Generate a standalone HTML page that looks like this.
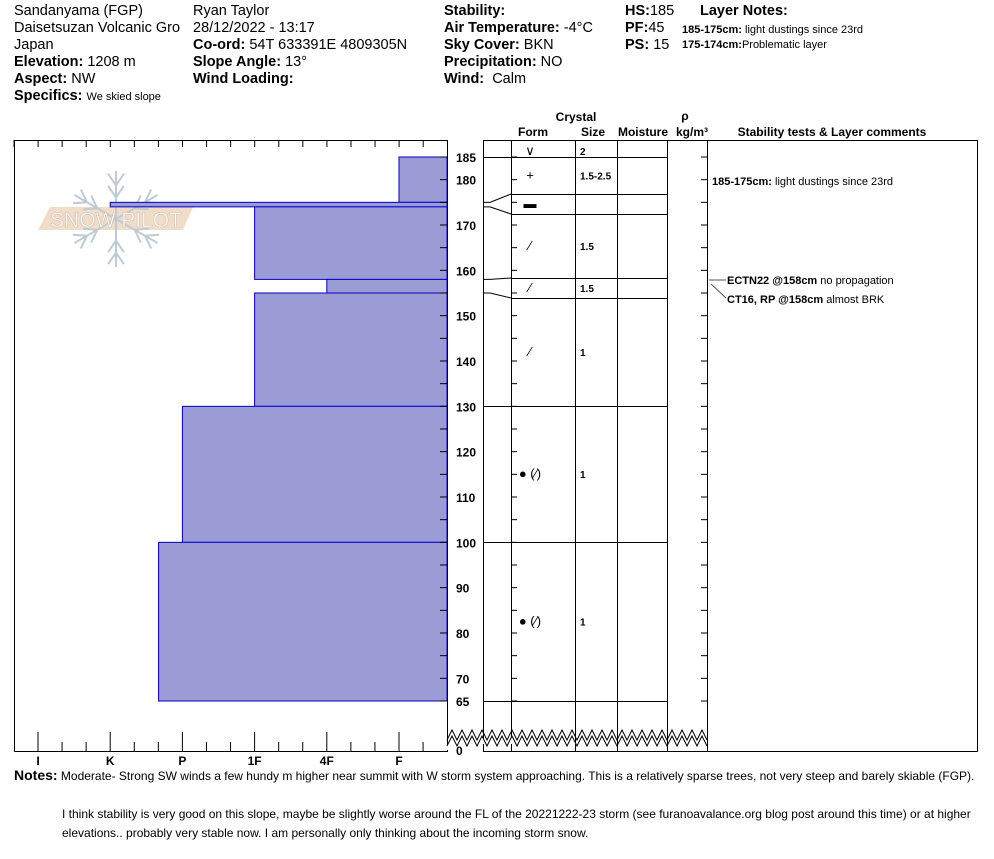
<!DOCTYPE html>
<html><head><meta charset="utf-8"><style>
body{margin:0;background:#fff;width:994px;height:859px;overflow:hidden;font-family:"Liberation Sans",sans-serif;}
.t{position:absolute;font-size:14.5px;color:#000;white-space:nowrap;line-height:17px}
b{font-weight:bold}
</style></head><body>
<div>
<div class="t" style="left:14px;top:3px">Sandanyama (FGP)<br>Daisetsuzan Volcanic Gro<br>Japan<br><b>Elevation:</b> 1208 m<br><b>Aspect:</b> NW<br><b>Specifics:</b> <span style="font-size:11px">We skied slope</span></div>
<div class="t" style="left:193px;top:3px">Ryan Taylor<br>28/12/2022 - 13:17<br><b>Co-ord:</b> 54T 633391E 4809305N<br><b>Slope Angle:</b> 13°<br><b>Wind Loading:</b></div>
<div class="t" style="left:444px;top:3px"><b>Stability:</b><br><b>Air Temperature:</b> -4°C<br><b>Sky Cover:</b> BKN<br><b>Precipitation:</b> NO<br><b>Wind:</b>&nbsp; Calm</div>
<div class="t" style="left:625px;top:3px"><b>HS:</b>185<br><b>PF:</b>45<br><b>PS:</b> 15</div>
<div class="t" style="left:700px;top:3px"><b>Layer Notes:</b></div>
<div class="t" style="left:682px;top:23px;font-size:11px;line-height:15px"><b>185-175cm:</b> light dustings since 23rd<br><b>175-174cm:</b>Problematic layer</div>
</div>
<svg id="chart" width="994" height="859" style="position:absolute;left:0;top:0" font-family="Liberation Sans, sans-serif"></svg>
<div class="t" style="left:14px;top:767px;font-size:12px;line-height:16px"><b style="font-size:14px">Notes:</b> Moderate- Strong SW winds a few hundy m higher near summit with W storm system approaching. This is a relatively sparse trees, not very steep and barely skiable (FGP).</div>
<div class="t" style="left:62px;top:805px;font-size:12px;line-height:19px;white-space:normal;width:930px">I think stability is very good on this slope, maybe be slightly worse around the FL of the 20221222-23 storm (see furanoavalance.org blog post around this time) or at higher elevations.. probably very stable now. I am personally only thinking about the incoming storm snow.</div>
<script>
const layerTops=[185,175,174,158,155,130,100];
const layerBottoms=[175,174,158,155,130,100,65];
const layerHardness=[1,5,3,2,3,4,4.33];
const hardLabels=["F","4F","1F","P","K","I"];
const depthTicks=[180,170,160,150,140,130,120,110,100,90,80,70];
const forms=["∨","+","▬","⁄","⁄","⁄","● (⁄)","● (⁄)"];
const sizes=["2","1.5-2.5","","1.5","1.5","1","1","1"];
const rowBounds=[157,194,214,278,298,406,542,701];
const svg=document.getElementById('chart');
const NS='http://www.w3.org/2000/svg';
function el(tag,attrs,txt){const e=document.createElementNS(NS,tag);for(const k in attrs)e.setAttribute(k,attrs[k]);if(txt!==undefined)e.textContent=txt;svg.appendChild(e);return e;}
const yD=d=>157+(185-d)*(544/120);
const xH=h=>399-(h-1)*72.2;
// logo
const logo=el('g',{opacity:0.9});


const p=document.createElementNS(NS,'polygon');p.setAttribute('points','50,207 193,207 183,230 38,230');p.setAttribute('fill','#efd9c2');logo.appendChild(p);
for(let a=0;a<6;a++){const an=a*Math.PI/3+Math.PI/2;const ex=116+48*Math.cos(an),ey=219-48*Math.sin(an);
 const l=document.createElementNS(NS,'line');l.setAttribute('x1',116);l.setAttribute('y1',219);l.setAttribute('x2',ex);l.setAttribute('y2',ey);l.setAttribute('stroke','#b9c6d0');l.setAttribute('stroke-width',2);logo.appendChild(l);
 for(const f of [0.45,0.7]){const bx=116+48*f*Math.cos(an),by=219-48*f*Math.sin(an);
  for(const s of [-1,1]){const a2=an+s*0.6;const b=document.createElementNS(NS,'line');b.setAttribute('x1',bx);b.setAttribute('y1',by);b.setAttribute('x2',bx+14*Math.cos(a2));b.setAttribute('y2',by-14*Math.sin(a2));b.setAttribute('stroke','#b9c6d0');b.setAttribute('stroke-width',2);logo.appendChild(b);}}}
const lt=document.createElementNS(NS,'text');lt.setAttribute('x',116);lt.setAttribute('y',227);lt.setAttribute('text-anchor','middle');lt.setAttribute('font-size',21);lt.setAttribute('fill','#fff');lt.setAttribute('stroke','#c9b8a8');lt.setAttribute('stroke-width',0.6);lt.textContent='SNOW PILOT';logo.appendChild(lt);
// layers
for(let i=0;i<layerTops.length;i++){
 const x=xH(layerHardness[i]),y=yD(layerTops[i]);
 const r=el('rect',{x:x,y:y,width:447-x,height:yD(layerBottoms[i])-y,fill:'#9b9bd6',stroke:'#0000c8','stroke-width':1});
 
 
}
// left box
el('rect',{x:14.5,y:140.5,width:433,height:611,fill:'none',stroke:'#000'});
for(let x=14;x<=447;x+=24.07)el('line',{x1:x,y1:140,x2:x,y2:147,stroke:'#000'});
for(let k=-2;k<=18;k++){const x=xH(1)-k*72.2/3;if(x<15||x>446)continue;const maj=k%3==0;el('line',{x1:x,y1:maj?732:742,x2:x,y2:751,stroke:'#000'});}
hardLabels.forEach((h,i)=>{const t=el('text',{x:xH(i+1),y:765,'text-anchor':'middle','font-size':12,'font-weight':'bold'},h);});
for(let d=65;d<=185;d+=5){const y=yD(d);el('line',{x1:440,y1:y,x2:447,y2:y,stroke:'#000'});el('line',{x1:511,y1:y,x2:517,y2:y,stroke:'#000'});el('line',{x1:701,y1:y,x2:707,y2:y,stroke:'#000'});}
depthTicks.forEach(d=>{const t=el('text',{x:456,y:yD(d)+5,'font-size':12,'font-weight':'bold'},d);});
[185,65].forEach(d=>el('text',{x:456,y:yD(d)+5,'font-size':12,'font-weight':'bold'},d));
// table
el('line',{x1:483,y1:140.5,x2:707,y2:140.5,stroke:'#000'});
[483,511,575,617,667].forEach(x=>el('line',{x1:x+.5,y1:140,x2:x+.5,y2:751,stroke:'#000'}));
el('rect',{x:707.5,y:140.5,width:270,height:611,fill:'none',stroke:'#000'});
el('line',{x1:483,y1:751.5,x2:707,y2:751.5,stroke:'#000'});
rowBounds.forEach((y,i)=>{const d=[185,175,174,158,155,130,100,65][i];const dy=yD(d);
 el('line',{x1:511,y1:y+.5,x2:667,y2:y+.5,stroke:'#000'});
 if(Math.abs(dy-y)<1)el('line',{x1:483,y1:y+.5,x2:511,y2:y+.5,stroke:'#000'});
 else el('polyline',{points:`483,${dy} 490,${dy} 511,${y}`,fill:'none',stroke:'#000'});});
for(let i=0;i<forms.length;i++){
 const y=i==0?151:(rowBounds[i-1]+rowBounds[i])/2;
 const f=el('text',{x:530,y:y+4,'text-anchor':'middle','font-size':13},forms[i]);
 const s=el('text',{x:580,y:y+4,'font-size':10,'font-weight':'bold'},sizes[i]);}
// zigzag
let zz='';for(let x=447,k=0;x<=707;x+=5,k++)zz+=`${x},${k%2?730:740} `;
el('polyline',{points:zz,fill:'none',stroke:'#000'});
let zz2='';for(let x=447,k=0;x<=707;x+=5,k++)zz2+=`${x},${k%2?736:746} `;
el('polyline',{points:zz2+' 707,750 447,750',fill:'#fff',stroke:'none'});
el('polyline',{points:zz2,fill:'none',stroke:'#000'});
el('line',{x1:483,y1:751.5,x2:707,y2:751.5,stroke:'#000'});
[483,511,575,617,667].forEach(x=>el('line',{x1:x+.5,y1:744,x2:x+.5,y2:751,stroke:'#000'}));
el('text',{x:456,y:755,'font-size':12,'font-weight':'bold'},'0');
// headers
[['Crystal',576,121],['Form',533,136],['Size',593,136],['Moisture',643,136],['ρ',685,120],['kg/m³',692,136],['Stability tests & Layer comments',832,136]].forEach(a=>el('text',{x:a[1],y:a[2],'text-anchor':'middle','font-size':12,'font-weight':'bold'},a[0]));
// comments
el('text',{x:712,y:185,'font-size':11},'').innerHTML='<tspan font-weight="bold">185-175cm:</tspan> light dustings since 23rd';
el('line',{x1:709,y1:280,x2:726,y2:280,stroke:'#555'});
el('line',{x1:711,y1:284,x2:726,y2:298,stroke:'#555'});
el('text',{x:727,y:284,'font-size':11},'').innerHTML='<tspan font-weight="bold">ECTN22 @158cm</tspan> no propagation';
el('text',{x:727,y:303,'font-size':11},'').innerHTML='<tspan font-weight="bold">CT16, RP @158cm</tspan> almost BRK';
</script>
</body></html>
